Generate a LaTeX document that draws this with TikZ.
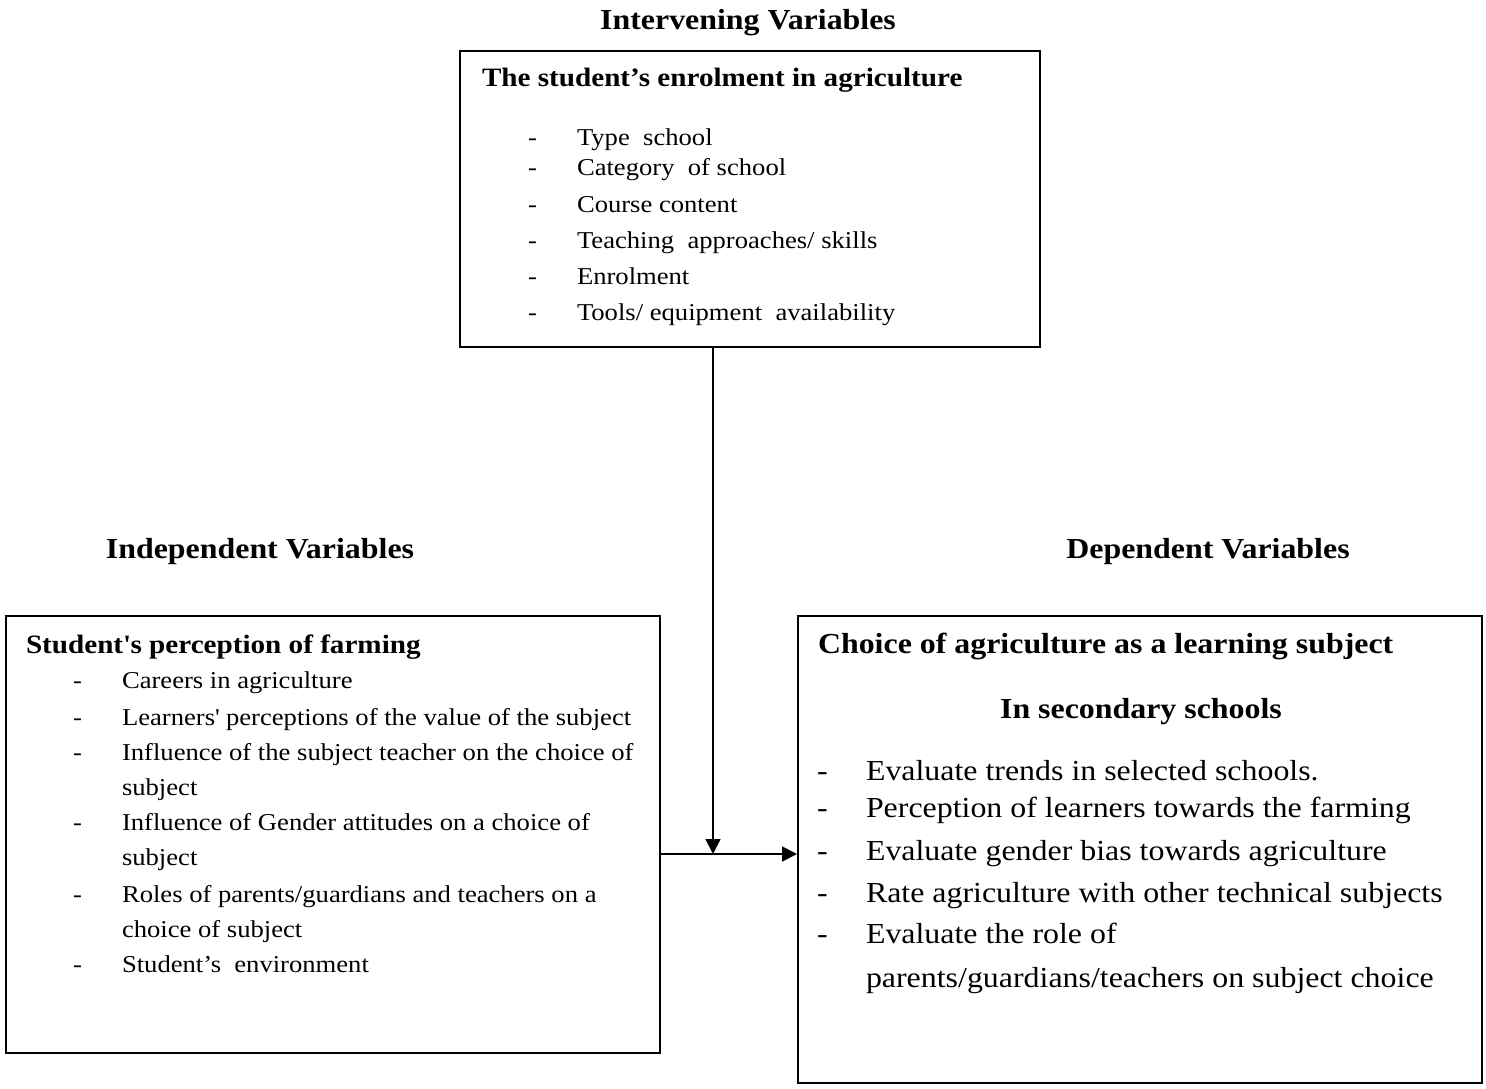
\documentclass[tikz,border=0pt]{standalone}
\usepackage{fontspec}
\setmainfont{Liberation Serif}[FakeStretch=1.1]
\usetikzlibrary{arrows.meta}
\tikzset{
  box/.style={draw=black, line width=1.8pt, rectangle, inner sep=0pt, anchor=north west, fill=none},
  arr/.style={line width=1.8pt, -{Triangle[length=15pt,width=15pt]}},
  txt/.style={anchor=base west, inner sep=0pt, outer sep=0pt},
  ctxt/.style={anchor=base, inner sep=0pt, outer sep=0pt},
  head/.style={font=\fontsize{29}{29}\selectfont\bfseries},
  ttl/.style={font=\fontsize{26.5}{26.5}\selectfont\bfseries},
  rttl/.style={font=\fontsize{29}{29}\selectfont\bfseries},
  itm/.style={font=\fontsize{24.2}{24.2}\selectfont},
  ritm/.style={font=\fontsize{29}{29}\selectfont},
}
\begin{document}
\begin{tikzpicture}[x=1pt,y=-1pt]
\useasboundingbox (0,0) rectangle (1486,1088);
% headings
\node[ctxt,head] (hint) at (748,29) {Intervening Variables};
\node[ctxt,head] (hind) at (260,558) {Independent Variables};
\node[ctxt,head] (hdep) at (1208,558) {Dependent Variables};
% boxes
\node[box, minimum width=580pt, minimum height=296pt] (top) at (459,50) {};
\node[box, minimum width=654pt, minimum height=437pt] (lbox) at (5,615) {};
\node[box, minimum width=684pt, minimum height=467pt] (rbox) at (797,615) {};
% top box text
\node[txt,ttl] (ttitle) at (482,86) {The student’s enrolment in agriculture};
\foreach \y/\t [count=\i] in {145/{Type\ \ school},175/{Category\ \ of school},212/{Course content},248/{Teaching\ \ approaches/ skills},284/{Enrolment},320/{Tools/ equipment\ \ availability}}{
  \node[txt,itm] (td\i) at (528,\y) {-};
  \node[txt,itm] (tt\i) at (577,\y) {\t};
}
% left box text
\node[txt,ttl] (ltitle) at (26,653) {Student\textquotesingle s perception of farming};
\foreach \y/\d/\t [count=\i] in {688/-/{Careers in agriculture},725/-/{Learners\textquotesingle\ perceptions of the value of the subject},760/-/{Influence of the subject teacher on the choice of},795//{subject},830/-/{Influence of Gender attitudes on a choice of},865//{subject},902/-/{Roles of parents/guardians and teachers on a},937//{choice of subject},972/-/{Student’s\ \ environment}}{
  \node[txt,itm] (ld\i) at (73,\y) {\d};
  \node[txt,itm] (lt\i) at (122,\y) {\t};
}
% right box text
\node[txt,rttl] (rtitle) at (818,653) {Choice of agriculture as a learning subject};
\node[ctxt,rttl] (rsub) at (1141,718) {In secondary schools};
\foreach \y/\d/\t [count=\i] in {780/-/{Evaluate trends in selected schools.},817/-/{Perception of learners towards the farming},860/-/{Evaluate gender bias towards agriculture},902/-/{Rate agriculture with other technical subjects},943/-/{Evaluate the role of},987//{parents/guardians/teachers on subject choice}}{
  \node[txt,ritm] (rd\i) at (817,\y) {\d};
  \node[txt,ritm] (rt\i) at (866,\y) {\t};
}
% connectors
\coordinate (j) at (713,854);
\draw[arr] (top.south -| j) -- (j);
\draw[arr] (lbox.east |- j) -- (rbox.west |- j);
\end{tikzpicture}
\end{document}
